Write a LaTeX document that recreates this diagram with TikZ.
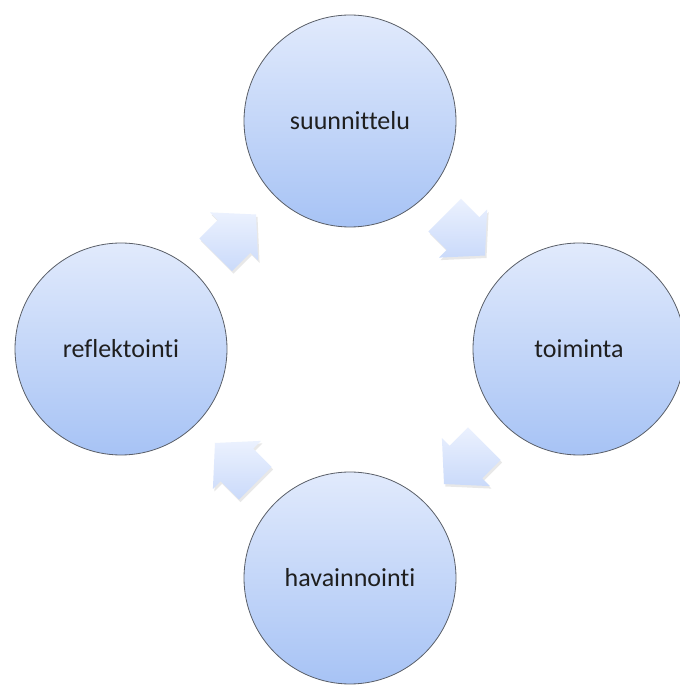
\documentclass[tikz,border=0pt]{standalone}
\usepackage{fontspec}
\setmainfont{Carlito}[Ligatures=NoCommon]
\usetikzlibrary{calc,shadows}
\definecolor{circtop}{HTML}{E1EAFC}
\definecolor{circbot}{HTML}{A7C3F5}
\definecolor{arrtop}{HTML}{EBF1FE}
\definecolor{arrbot}{HTML}{CADAFA}
\definecolor{rimcol}{HTML}{5A5F68}
\tikzset{
  phase/.style={circle, minimum size=212pt, inner sep=0pt,
    draw=rimcol, line width=0.8pt, top color=circtop, bottom color=circbot,
    font=\fontsize{26}{30}\selectfont, text=black!88},
  cyclearrowstyle/.style={top color=arrtop, bottom color=arrbot, draw=none,
    drop shadow={opacity=0.18, shadow xshift=1.5pt, shadow yshift=-2.5pt}}
}
\newcommand\cyclearrow[2]{%
  \path[cyclearrowstyle]
    ([shift={(#1)}]#2:29) --
    ([shift={(#1)}]#2+93.4:34.06) --
    ([shift={(#1)}]#2+95.0:23.09) --
    ([shift={(#1)}]#2+140.6:36.24) --
    ([shift={(#1)}]#2-140.6:36.24) --
    ([shift={(#1)}]#2-95.0:23.09) --
    ([shift={(#1)}]#2-93.4:34.06) -- cycle;}
\begin{document}
\begin{tikzpicture}[x=1pt,y=1pt]
\useasboundingbox[fill=white] (0,0) rectangle (680,686);
\clip (0,0) rectangle (680,686);
\node[phase] (suun) at (350,565) {suunnittelu};
\node[phase] (toim) at (579,337) {toiminta};
\node[phase] (hava) at (350,108) {havainnointi};
\node[phase] (refl) at (121,337) {reflektointi};
\coordinate (a1) at ($(refl)!0.5!(suun)$);
\coordinate (a2) at ($(suun)!0.5!(toim)$);
\coordinate (a3) at ($(toim)!0.5!(hava)$);
\coordinate (a4) at ($(hava)!0.5!(refl)$);
\cyclearrow{a1}{45}
\cyclearrow{a2}{-45}
\cyclearrow{a3}{-135}
\cyclearrow{a4}{135}
\end{tikzpicture}
\end{document}
